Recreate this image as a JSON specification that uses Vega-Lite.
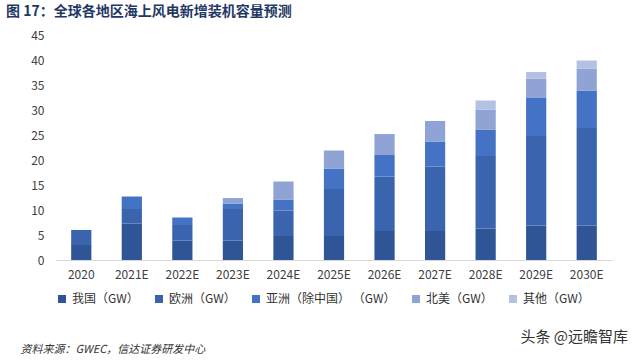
{
  "$schema": "https://vega.github.io/schema/vega-lite/v6.json",
  "width": 556,
  "height": 225,
  "autosize": "none",
  "padding": {"left": 56, "top": 35, "right": 28, "bottom": 101},
  "background": "white",
  "config": {"view": {"stroke": null}, "font": "Noto Sans CJK SC"},
  "title": {
    "text": "图 17：全球各地区海上风电新增装机容量预测",
    "anchor": "start",
    "frame": "group",
    "dx": -50,
    "offset": 10,
    "fontSize": 14,
    "fontWeight": "bold",
    "color": "#1F3864",
    "font": "Noto Sans CJK SC"
  },
  "data": {
    "values": [
      {"year": "2020", "region": "我国（GW）", "k": 1, "value": 3.0},
      {"year": "2020", "region": "欧洲（GW）", "k": 2, "value": 3.0},
      {"year": "2021E", "region": "我国（GW）", "k": 1, "value": 7.3},
      {"year": "2021E", "region": "欧洲（GW）", "k": 2, "value": 2.9},
      {"year": "2021E", "region": "亚洲（除中国） （GW）", "k": 3, "value": 2.5},
      {"year": "2022E", "region": "我国（GW）", "k": 1, "value": 3.9},
      {"year": "2022E", "region": "欧洲（GW）", "k": 2, "value": 3.1},
      {"year": "2022E", "region": "亚洲（除中国） （GW）", "k": 3, "value": 1.5},
      {"year": "2023E", "region": "我国（GW）", "k": 1, "value": 3.9},
      {"year": "2023E", "region": "欧洲（GW）", "k": 2, "value": 6.3},
      {"year": "2023E", "region": "亚洲（除中国） （GW）", "k": 3, "value": 1.1},
      {"year": "2023E", "region": "北美（GW）", "k": 4, "value": 1.1},
      {"year": "2024E", "region": "我国（GW）", "k": 1, "value": 4.8},
      {"year": "2024E", "region": "欧洲（GW）", "k": 2, "value": 5.1},
      {"year": "2024E", "region": "亚洲（除中国） （GW）", "k": 3, "value": 2.2},
      {"year": "2024E", "region": "北美（GW）", "k": 4, "value": 3.6},
      {"year": "2025E", "region": "我国（GW）", "k": 1, "value": 4.8},
      {"year": "2025E", "region": "欧洲（GW）", "k": 2, "value": 9.4},
      {"year": "2025E", "region": "亚洲（除中国） （GW）", "k": 3, "value": 4.1},
      {"year": "2025E", "region": "北美（GW）", "k": 4, "value": 3.6},
      {"year": "2026E", "region": "我国（GW）", "k": 1, "value": 5.8},
      {"year": "2026E", "region": "欧洲（GW）", "k": 2, "value": 10.9},
      {"year": "2026E", "region": "亚洲（除中国） （GW）", "k": 3, "value": 4.3},
      {"year": "2026E", "region": "北美（GW）", "k": 4, "value": 4.2},
      {"year": "2027E", "region": "我国（GW）", "k": 1, "value": 5.8},
      {"year": "2027E", "region": "欧洲（GW）", "k": 2, "value": 12.9},
      {"year": "2027E", "region": "亚洲（除中国） （GW）", "k": 3, "value": 5.0},
      {"year": "2027E", "region": "北美（GW）", "k": 4, "value": 4.1},
      {"year": "2028E", "region": "我国（GW）", "k": 1, "value": 6.3},
      {"year": "2028E", "region": "欧洲（GW）", "k": 2, "value": 14.5},
      {"year": "2028E", "region": "亚洲（除中国） （GW）", "k": 3, "value": 5.3},
      {"year": "2028E", "region": "北美（GW）", "k": 4, "value": 4.0},
      {"year": "2028E", "region": "其他（GW）", "k": 5, "value": 1.8},
      {"year": "2029E", "region": "我国（GW）", "k": 1, "value": 6.9},
      {"year": "2029E", "region": "欧洲（GW）", "k": 2, "value": 17.9},
      {"year": "2029E", "region": "亚洲（除中国） （GW）", "k": 3, "value": 7.6},
      {"year": "2029E", "region": "北美（GW）", "k": 4, "value": 3.9},
      {"year": "2029E", "region": "其他（GW）", "k": 5, "value": 1.3},
      {"year": "2030E", "region": "我国（GW）", "k": 1, "value": 6.9},
      {"year": "2030E", "region": "欧洲（GW）", "k": 2, "value": 19.5},
      {"year": "2030E", "region": "亚洲（除中国） （GW）", "k": 3, "value": 7.5},
      {"year": "2030E", "region": "北美（GW）", "k": 4, "value": 4.4},
      {"year": "2030E", "region": "其他（GW）", "k": 5, "value": 1.6}
    ]
  },
  "mark": {"type": "bar"},
  "encoding": {
    "x": {
      "field": "year",
      "type": "ordinal",
      "sort": null,
      "scale": {"paddingInner": 0.6, "paddingOuter": 0.3},
      "axis": {
        "labelAngle": 0,
        "labelFontSize": 12,
        "labelColor": "#404040",
        "labelPadding": 9,
        "ticks": false,
        "domainColor": "#D9D9D9",
        "title": "资料来源：GWEC，信达证券研发中心",
        "titleX": -36,
        "titleY": 89,
        "titleAlign": "left",
        "titleBaseline": "middle",
        "titleFontSize": 11,
        "titleFontStyle": "italic",
        "titleFontWeight": "normal",
        "titleColor": "#333333"
      }
    },
    "y": {
      "field": "value",
      "type": "quantitative",
      "aggregate": "sum",
      "stack": "zero",
      "scale": {"domain": [0, 45]},
      "axis": {
        "values": [0, 5, 10, 15, 20, 25, 30, 35, 40, 45],
        "grid": false,
        "ticks": false,
        "domain": false,
        "labelFontSize": 12,
        "labelColor": "#404040",
        "labelPadding": 12,
        "title": "头条 @远瞻智库",
        "titleAngle": 0,
        "titleX": 464,
        "titleY": 301,
        "titleAlign": "left",
        "titleBaseline": "middle",
        "titleFontSize": 15,
        "titleFontWeight": "normal",
        "titleColor": "#333333"
      }
    },
    "color": {
      "field": "region",
      "type": "nominal",
      "scale": {
        "domain": ["我国（GW）", "欧洲（GW）", "亚洲（除中国） （GW）", "北美（GW）", "其他（GW）"],
        "range": ["#2F5597", "#3A64AE", "#4472C4", "#8FA3D5", "#B4C1E3"]
      },
      "legend": {
        "title": null,
        "orient": "none",
        "direction": "horizontal",
        "legendX": 0,
        "legendY": 258,
        "symbolType": "square",
        "symbolSize": 64,
        "symbolStrokeWidth": 0,
        "labelFontSize": 12,
        "labelColor": "#333333",
        "labelOffset": 4,
        "columnPadding": 14
      }
    },
    "order": {"field": "k", "type": "quantitative", "sort": "ascending"}
  }
}
